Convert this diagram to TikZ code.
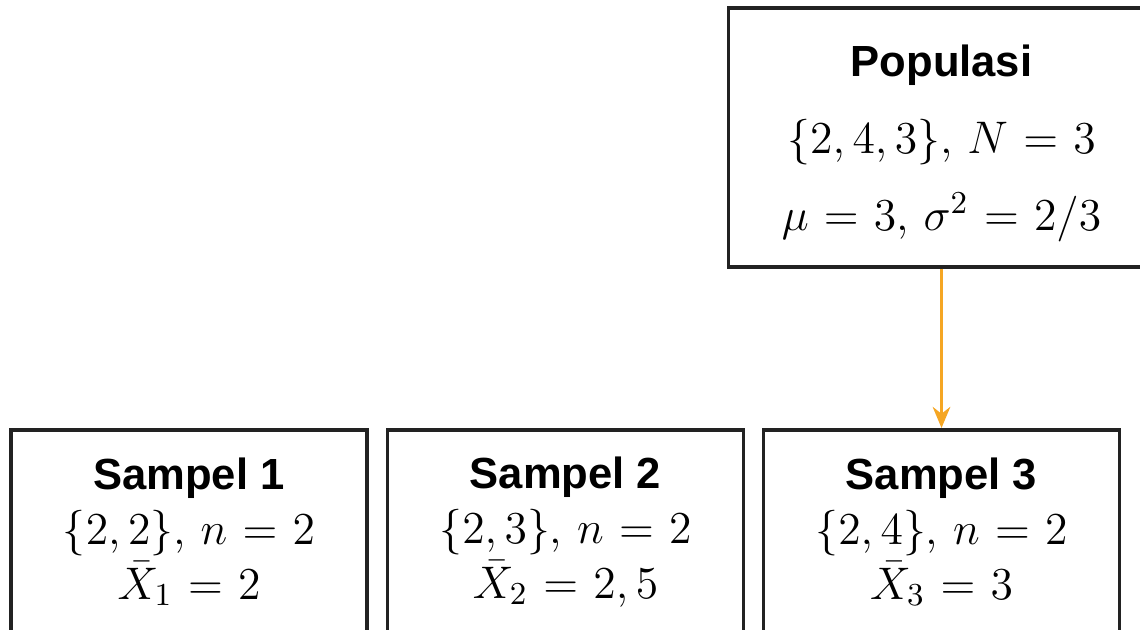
\RequirePackage{fix-cm}
\documentclass[tikz,border=0pt]{standalone}
\usepackage{fontspec}
\setsansfont{Liberation Sans}
\usepackage{amsmath}
\usetikzlibrary{positioning, arrows.meta}

\definecolor{boxline}{HTML}{222222}
\definecolor{floworange}{HTML}{F5A623}

\newcommand{\boxtitle}[1]{{\sffamily\bfseries\fontsize{12.4}{15}\selectfont #1}}
\newcommand{\mathfont}{\fontsize{13}{15.6}\selectfont\thickmuskip=6mu plus 2mu}

\begin{document}
\begin{tikzpicture}[
  popbox/.style={draw=boxline, line width=1.1pt, minimum width=4.26cm, minimum height=2.59cm, align=center, inner sep=0pt, font=\mathfont},
  sampbox/.style={draw=boxline, line width=1.1pt, minimum width=3.56cm, minimum height=2.04cm, anchor=north, align=center, inner sep=0pt, font=\mathfont},
  flow/.style={-{Stealth[length=6pt, width=5pt]}, draw=floworange, line width=0.85pt},
]
\path[use as bounding box, clip] (0,0) rectangle (11.4,-6.3);

%% Population box
\node[popbox] (pop) at (9.415,-1.375) {\rule{0pt}{12.4pt}\boxtitle{Populasi}\\[6.3pt]
  $\{2,4,3\}$, $N=3$\\[6.3pt]
  $\mu=3$, $\sigma^2=2/3$};

%% Sample boxes
\node[sampbox] (s1) at (1.89,-4.28) {\boxtitle{Sampel 1}\\ $\{2,2\}$, $n=2$\\ $\bar{X}_1=2$};
\node[sampbox] (s2) at (5.655,-4.28) {\boxtitle{Sampel 2}\\ $\{2,3\}$, $n=2$\\ $\bar{X}_2=2,5$};
\node[sampbox] (s3) at (9.415,-4.28) {\boxtitle{Sampel 3}\\ $\{2,4\}$, $n=2$\\ $\bar{X}_3=3$};

%% Sampling arrow
\draw[flow] (pop.south -| s3.north) -- (s3.north);

\end{tikzpicture}
\end{document}
